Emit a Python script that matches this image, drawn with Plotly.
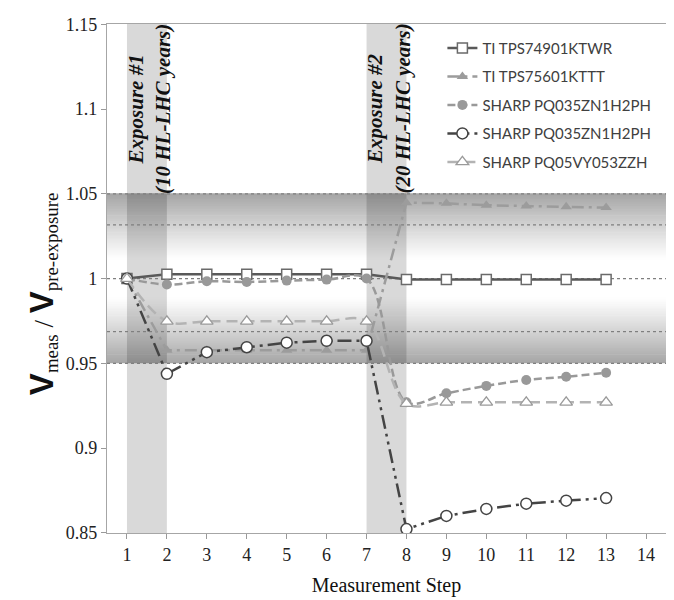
import plotly.graph_objects as go

steps = list(range(1, 14))

ti_74901 = [1.000, 1.0025, 1.0025, 1.0025, 1.0025, 1.0025, 1.0025, 0.9995, 0.9995, 0.9995, 0.9995, 0.9995, 0.9995]
ti_75601 = [1.000, 0.9577, 0.9577, 0.9577, 0.9577, 0.9577, 0.9577, 1.0448, 1.0444, 1.0433, 1.0428, 1.0424, 1.0419]
sharp_035_a = [1.000, 0.9965, 0.9984, 0.9980, 0.9988, 0.9994, 1.0000, 0.9270, 0.9323, 0.9367, 0.9402, 0.9421, 0.9444]
sharp_035_b = [1.000, 0.9438, 0.9566, 0.9595, 0.9622, 0.9633, 0.9633, 0.8522, 0.8600, 0.8641, 0.8672, 0.8690, 0.8705]
sharp_05vy = [1.000, 0.9748, 0.9748, 0.9748, 0.9748, 0.9748, 0.9748, 0.9262, 0.9270, 0.9270, 0.9270, 0.9270, 0.9270]

names = ["TI TPS74901KTWR", "TI TPS75601KTTT", "SHARP PQ035ZN1H2PH", "SHARP PQ035ZN1H2PH", "SHARP PQ05VY053ZZH"]

x_ticks = list(range(1, 15))
y_tick_vals = [0.85, 0.9, 0.95, 1.0, 1.05, 1.1, 1.15]
y_tick_text = ["0.85", "0.9", "0.95", "1", "1.05", "1.1", "1.15"]

band_low, band_high = 0.95, 1.05
ref_lines = [1.05, 1.0317, 1.0, 0.9687, 0.95]
exposures = [(1, 2, "Exposure #1", "(10 HL-LHC years)"), (7, 8, "Exposure #2", "(20 HL-LHC years)")]

serif = "Liberation Serif"

fig = go.Figure()

# gradient band via stripes
shapes = []
n = 100
for i in range(n):
    y0 = band_low + (band_high - band_low) * i / n
    y1 = band_low + (band_high - band_low) * (i + 1) / n
    ym = (y0 + y1) / 2
    d = abs(ym - 1.0) / 0.05
    if d < 0.22:
        c = 255
    else:
        t = (d - 0.22) / 0.78
        c = int(round(255 - 90 * t ** 1.1))
    shapes.append(dict(type="rect", xref="paper", yref="y", x0=0, x1=1, y0=y0, y1=y1 + 0.0004,
                       fillcolor=f"rgb({c},{c},{c})", line=dict(width=0), layer="below"))

for (a, b, _, _) in exposures:
    shapes.append(dict(type="rect", xref="x", yref="paper", x0=a, x1=b, y0=0, y1=1,
                       fillcolor="rgba(0,0,0,0.15)", line=dict(width=0), layer="below"))

for v in ref_lines:
    shapes.append(dict(type="line", xref="paper", yref="y", x0=0, x1=1, y0=v, y1=v,
                       line=dict(color="#7f7f7f", width=1.2, dash="dot"), layer="below"))

styles = [
    dict(y=ti_74901, line=dict(color="#595959", width=2.5), shape="linear",
         marker=dict(symbol="square", size=10, color="white", line=dict(color="#6a6a6a", width=1.5))),
    dict(y=ti_75601, line=dict(color="#9c9c9c", width=2.5, dash="12px,5px,3px,5px"), shape="linear",
         marker=dict(symbol="triangle-up", size=10, color="#9c9c9c", line=dict(width=0))),
    dict(y=sharp_035_a, line=dict(color="#999999", width=2.5, dash="8px,4px"), shape="spline",
         marker=dict(symbol="circle", size=10, color="#999999", line=dict(width=0))),
    dict(y=sharp_035_b, line=dict(color="#444444", width=2.5, dash="14px,5px,3px,5px,3px,5px"), shape="linear",
         marker=dict(symbol="circle", size=11, color="white", line=dict(color="#444444", width=1.5))),
    dict(y=sharp_05vy, line=dict(color="#b3b3b3", width=2.5, dash="11px,6px"), shape="spline",
         marker=dict(symbol="triangle-up", size=11, color="white", line=dict(color="#9a9a9a", width=1.3))),
]

for i, (nm, st) in enumerate(zip(names, styles)):
    ln = dict(st["line"])
    ln["shape"] = st["shape"]
    fig.add_trace(go.Scatter(x=steps, y=st["y"], name=nm, mode="lines+markers",
                             line=ln, marker=st["marker"], legendgroup=f"g{i}"))

annotations = []
for (a, b, l1, l2) in exposures:
    annotations.append(dict(x=a + 0.55, y=1.1, xref="x", yref="y", showarrow=False, textangle=-90,
                            text=f"<b><i>{l1}</i></b><br><b><i>{l2}</i></b>", align="center",
                            font=dict(family=serif, size=21, color="#111111")))

annotations.append(dict(
    x=-0.155, y=0.47, xref="paper", yref="paper", showarrow=False, textangle=-90,
    text=('<span style="font-family:Liberation Sans;font-weight:bold;font-size:33px">V</span>'
          '<sub>meas</sub> / '
          '<span style="font-family:Liberation Sans;font-weight:bold;font-size:33px">V</span>'
          '<sub>pre-exposure</sub>'),
    font=dict(family=serif, size=27, color="#111111")))

# page body adds an 8px offset; compensate so plot area sits at about x 107-667, y 15-533
fig.update_layout(
    width=666, height=592,
    margin=dict(l=99, r=7, t=8, b=67),
    paper_bgcolor="white", plot_bgcolor="white",
    shapes=shapes, annotations=annotations,
    showlegend=True,
    legend=dict(x=0.6, y=0.985, xanchor="left", yanchor="top", bgcolor="rgba(255,255,255,0)",
                font=dict(family="Lato", size=15, color="#404040"), tracegroupgap=6,
                itemwidth=30),
    xaxis=dict(range=[0.5, 14.5], tickvals=x_ticks, ticks="outside", ticklen=5, tickcolor="#999999",
               showgrid=False, zeroline=False, showline=True, linecolor="#a6a6a6", linewidth=1.2, mirror=True,
               tickfont=dict(family=serif, size=18, color="#222222"),
               title=dict(text="Measurement Step", font=dict(family=serif, size=20, color="#111111"), standoff=14)),
    yaxis=dict(range=[0.8499, 1.1502], tickvals=y_tick_vals, ticktext=y_tick_text, ticks="outside", ticklen=5,
               tickcolor="#999999", showgrid=False, zeroline=False, showline=True, linecolor="#a6a6a6",
               linewidth=1.2, mirror=True, ticklabeloverflow="allow",
               tickfont=dict(family=serif, size=18, color="#222222")),
)

fig.write_html("out.html")
